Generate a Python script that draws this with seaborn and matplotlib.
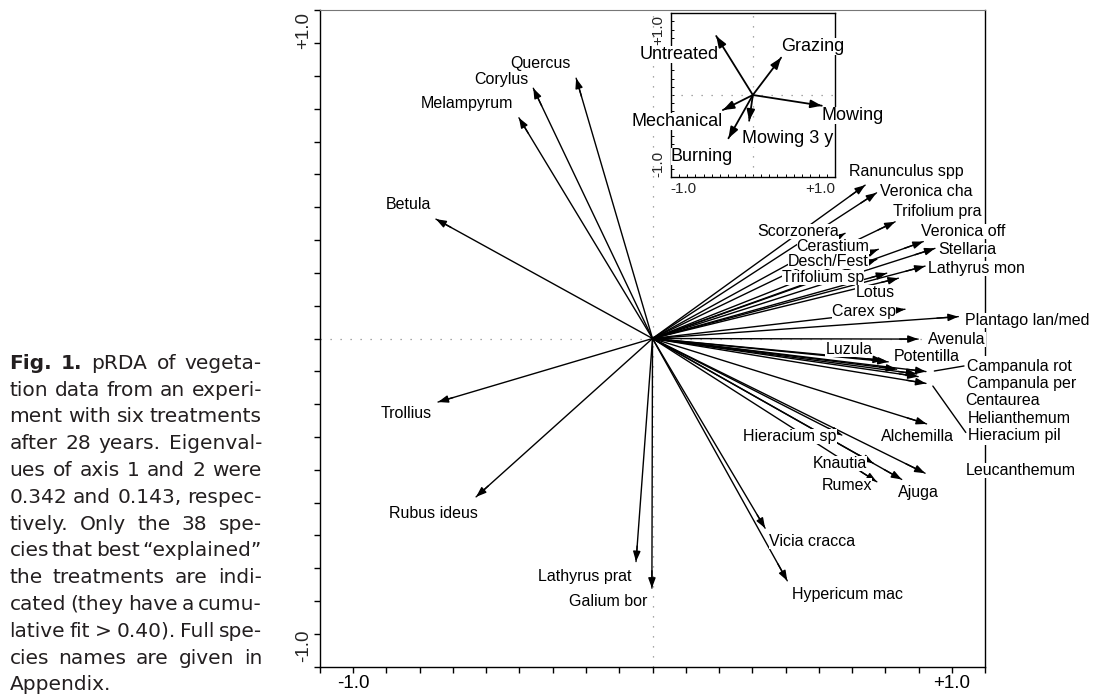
import numpy as np
import pandas as pd
import matplotlib
matplotlib.use("Agg")
import matplotlib.pyplot as plt
import seaborn as sns

# ---------------- data ----------------
species = ["Quercus", "Corylus", "Melampyrum", "Betula", "Trollius", "Rubus ideus",
           "Lathyrus prat", "Galium bor", "Vicia cracca", "Hypericum mac",
           "Hieracium sp", "Knautia", "Rumex", "Ajuga", "Leucanthemum", "Alchemilla",
           "Campanula rot", "Campanula per", "Centaurea", "Helianthemum", "Hieracium pil",
           "Potentilla", "Luzula", "Avenula", "Plantago lan/med", "Carex sp", "Lotus",
           "Trifolium sp", "Desch/Fest", "Cerastium", "Scorzonera", "Lathyrus mon",
           "Stellaria", "Veronica off", "Trifolium pra", "Veronica cha", "Ranunculus spp"]
axis1 = [-0.255, -0.398, -0.446, -0.723, -0.716, -0.589,
         -0.055, -0.002, 0.376, 0.450,
         0.632, 0.737, 0.749, 0.832, 0.910, 0.915,
         0.913, 0.887, 0.882, 0.815, 0.913,
         0.787, 0.771, 0.887, 1.021, 0.843, 0.821,
         0.782, 0.749, 0.754, 0.643, 0.910,
         0.943, 0.904, 0.810, 0.748, 0.710]
axis2 = [0.881, 0.847, 0.747, 0.404, -0.215, -0.536,
         -0.755, -0.845, -0.642, -0.820,
         -0.327, -0.422, -0.485, -0.477, -0.456, -0.289,
         -0.112, -0.129, -0.120, -0.104, -0.152,
         -0.079, -0.074, -0.002, 0.074, 0.099, 0.204,
         0.221, 0.268, 0.302, 0.356, 0.245,
         0.305, 0.328, 0.395, 0.493, 0.519]

treatments = ["Untreated", "Grazing", "Mowing", "Mechanical", "Mowing 3 y", "Burning"]
treat_axis1 = [-0.446, 0.344, 0.839, -0.365, -0.045, -0.297]
treat_axis2 = [0.722, 0.457, -0.131, -0.184, -0.315, -0.530]

tick_labels = ["-1.0", "+1.0"]

caption_lines = [
    "Fig. 1. pRDA of vegeta-",
    "tion data from an experi-",
    "ment with six treatments",
    "after 28 years. Eigenval-",
    "ues of axis 1 and 2 were",
    "0.342 and 0.143, respec-",
    "tively. Only the 38 spe-",
    "cies that best \u201cexplained\u201d",
    "the treatments are indi-",
    "cated (they have a cumu-",
    "lative fit > 0.40). Full spe-",
    "cies names are given in",
    "Appendix.",
]

# ---------------- layout (label placement) ----------------
species_label_pos = {
    "Quercus": (-0.373, 0.931, "center"),
    "Corylus": (-0.504, 0.875, "center"),
    "Melampyrum": (-0.620, 0.796, "center"),
    "Betula": (-0.815, 0.452, "center"),
    "Trollius": (-0.823, -0.255, "center"),
    "Rubus ideus": (-0.733, -0.591, "center"),
    "Lathyrus prat": (-0.226, -0.804, "center"),
    "Galium bor": (-0.148, -0.891, "center"),
    "Vicia cracca": (0.532, -0.688, "center"),
    "Hypericum mac": (0.650, -0.865, "center"),
    "Hieracium sp": (0.459, -0.330, "center"),
    "Knautia": (0.626, -0.422, "center"),
    "Rumex": (0.648, -0.498, "center"),
    "Ajuga": (0.887, -0.520, "center"),
    "Leucanthemum": (1.230, -0.448, "center"),
    "Alchemilla": (0.886, -0.332, "center"),
    "Campanula rot": (1.049, -0.095, "left"),
    "Campanula per": (1.049, -0.152, "left"),
    "Centaurea": (1.043, -0.210, "left"),
    "Helianthemum": (1.053, -0.270, "left"),
    "Hieracium pil": (1.053, -0.327, "left"),
    "Potentilla": (0.917, -0.062, "center"),
    "Luzula": (0.656, -0.037, "center"),
    "Avenula": (1.017, -0.002, "center"),
    "Plantago lan/med": (1.250, 0.060, "center"),
    "Carex sp": (0.706, 0.091, "center"),
    "Lotus": (0.743, 0.157, "center"),
    "Trifolium sp": (0.568, 0.207, "center"),
    "Desch/Fest": (0.588, 0.261, "center"),
    "Cerastium": (0.603, 0.312, "center"),
    "Scorzonera": (0.486, 0.362, "center"),
    "Lathyrus mon": (1.080, 0.238, "center"),
    "Stellaria": (1.052, 0.302, "center"),
    "Veronica off": (1.037, 0.361, "center"),
    "Trifolium pra": (0.950, 0.431, "center"),
    "Veronica cha": (0.913, 0.497, "center"),
    "Ranunculus spp": (0.846, 0.564, "center"),
}
treat_label_pos = {
    "Untreated": (-0.900, 0.490),
    "Grazing": (0.734, 0.591),
    "Mowing": (1.220, -0.245),
    "Mechanical": (-0.925, -0.327),
    "Mowing 3 y": (0.423, -0.530),
    "Burning": (-0.620, -0.755),
}

# ---------------- style ----------------
sns.set_theme(style="ticks")
plt.rcParams["font.family"] = ["Liberation Sans", "DejaVu Sans"]

W, H = 1094, 695
fig = plt.figure(figsize=(W / 100, H / 100), dpi=100)
fig.patch.set_facecolor("white")

ax = fig.add_axes([319.7 / W, 1 - 666.8 / H, (985.3 - 319.7) / W, (666.8 - 10.2) / H])
ax.set_facecolor("white")
lim = 10 / 9

dot = (0, (1, 7))
ax.axhline(0, color="#8a8a8a", lw=0.9, ls=dot, zorder=1)
ax.axvline(0, color="#8a8a8a", lw=0.9, ls=dot, zorder=1)

rows = []
for n, x, y in zip(species, axis1, axis2):
    rows.append((n, 0.0, 0.0))
    rows.append((n, x, y))
df = pd.DataFrame(rows, columns=["species", "x", "y"])
sns.lineplot(data=df, x="x", y="y", units="species", estimator=None, sort=False,
             color="black", lw=1.0, ax=ax, legend=False, zorder=3)

head = "-|>,head_length=0.6,head_width=0.22"
for x, y in zip(axis1, axis2):
    ax.annotate("", xy=(x, y), xytext=(0.93 * x, 0.93 * y),
                arrowprops=dict(arrowstyle=head, mutation_scale=10, color="black",
                                lw=1.0, shrinkA=0, shrinkB=0), zorder=4)

box = dict(boxstyle="square,pad=0.0", fc="white", ec="none")
box_wide = dict(boxstyle="square,pad=0.18", fc="white", ec="none")
for n in species:
    lx, ly, ha = species_label_pos[n]
    ax.text(lx, ly, n, ha=ha, va="center", fontsize=11.5, color="black",
            zorder=6, clip_on=False, bbox=box_wide if ha == "left" else box)

# leader lines to the Campanula block
ax.plot([0.941, 1.040], [-0.110, -0.093], color="black", lw=1.0, zorder=7, clip_on=False)
ax.plot([0.936, 1.046], [-0.161, -0.318], color="black", lw=1.0, zorder=7, clip_on=False)

minor = np.arange(-10, 11) / 9
ax.set_xticks([-1, 1])
ax.set_xticklabels(tick_labels)
ax.set_xticks(minor, minor=True)
ax.set_yticks([-1, 1])
ax.set_yticklabels(["", ""])
ax.set_yticks(minor, minor=True)
ax.tick_params(which="both", direction="out", length=4, width=1, color="black",
               top=False, right=False, labelsize=13.5, pad=2, labelcolor="black")
ax.set_xlabel("")
ax.set_ylabel("")
ax.set_xlim(-lim, lim)
ax.set_ylim(-lim, lim)
for k, s in ax.spines.items():
    s.set_visible(True)
    s.set_color("black")
    s.set_linewidth(1.0)
ax.spines["top"].set_color("#777777")
ax.spines["top"].set_linewidth(0.8)

# rotated y tick labels
ax.text(-0.0116, 1.041, "+1.0", transform=ax.get_yaxis_transform(), rotation=90,
        ha="right", va="center", fontsize=13.5, clip_on=False)
ax.text(-0.0116, -1.041, "-1.0", transform=ax.get_yaxis_transform(), rotation=90,
        ha="right", va="center", fontsize=13.5, clip_on=False)

# ---------------- inset: treatments ----------------
ax_in = fig.add_axes([670.7 / W, 1 - 176.7 / H, 164.3 / W, 163.4 / H])
ax_in.set_facecolor("white")
ax_in.axhline(0, color="#8a8a8a", lw=0.9, ls=dot, zorder=1)
ax_in.axvline(0, color="#8a8a8a", lw=0.9, ls=dot, zorder=1)
trows = []
for n, x, y in zip(treatments, treat_axis1, treat_axis2):
    trows.append((n, 0.0, 0.0))
    trows.append((n, x, y))
dft = pd.DataFrame(trows, columns=["treatment", "x", "y"])
sns.lineplot(data=dft, x="x", y="y", units="treatment", estimator=None, sort=False,
             color="black", lw=1.3, ax=ax_in, legend=False, zorder=3)
for x, y in zip(treat_axis1, treat_axis2):
    ax_in.annotate("", xy=(x, y), xytext=(0.85 * x, 0.85 * y),
                   arrowprops=dict(arrowstyle=head, mutation_scale=11, color="black",
                                   lw=1.3, shrinkA=0, shrinkB=0), zorder=4)
for n in treatments:
    lx, ly = treat_label_pos[n]
    ax_in.text(lx, ly, n, ha="center", va="center", fontsize=13, color="black",
               zorder=6, clip_on=False, bbox=box)
ax_in.set_xlim(-1, 1)
ax_in.set_ylim(-1, 1)
ax_in.set_xlabel("")
ax_in.set_ylabel("")
ax_in.set_xticks(np.arange(-10, 11) / 10)
ax_in.set_yticks(np.arange(-10, 11) / 10)
ax_in.tick_params(which="both", direction="in", length=2, width=0.7, color="black",
                  labelbottom=False, labelleft=False, top=False, right=False)
for s in ax_in.spines.values():
    s.set_visible(True)
    s.set_color("black")
    s.set_linewidth(1.0)
ax_in.text(-1.0, -1.065, tick_labels[0], ha="left", va="top", fontsize=11, clip_on=False)
ax_in.text(1.0, -1.065, tick_labels[1], ha="right", va="top", fontsize=11, clip_on=False)
ax_in.text(-1.067, 0.98, tick_labels[1], rotation=90, ha="right", va="top", fontsize=11, clip_on=False)
ax_in.text(-1.067, -1.0, tick_labels[0], rotation=90, ha="right", va="bottom", fontsize=11, clip_on=False)

# ---------------- caption (justified) ----------------
renderer = fig.canvas.get_renderer()
cap_left, cap_right = 9.5, 262.0
base0, lstep = 368.7, 26.8
cap_size = 14.5
cap_family = ["DejaVu Sans"]
cap_color = "#231f20"


def cap_text(w, bold=False):
    return fig.text(0, 0, w, fontsize=cap_size, family=cap_family,
                    fontweight="bold" if bold else "normal", color=cap_color,
                    ha="left", va="baseline")


t_a = cap_text("a a")
t_b = cap_text("aa")
space_w = t_a.get_window_extent(renderer).width - t_b.get_window_extent(renderer).width
t_a.remove()
t_b.remove()

for i, line in enumerate(caption_lines):
    words = line.split(" ")
    texts = []
    for j, w in enumerate(words):
        texts.append(cap_text(w, bold=(i == 0 and j < 2)))
    widths = [t.get_window_extent(renderer).width for t in texts]
    justify = i < len(caption_lines) - 1 and len(words) > 1
    if justify:
        gap = (cap_right - cap_left - sum(widths)) / (len(words) - 1)
    else:
        gap = space_w
    xpx = cap_left
    ypx = base0 + i * lstep
    for t, wdt in zip(texts, widths):
        t.set_position((xpx / W, 1 - ypx / H))
        xpx += wdt + gap

fig.savefig("out.png", dpi=100, facecolor="white")
